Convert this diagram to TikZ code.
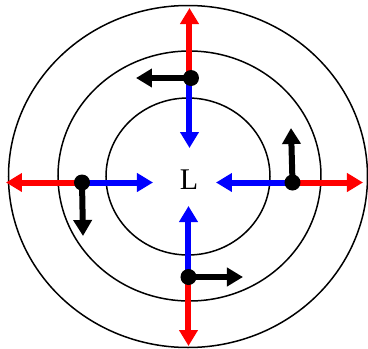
\documentclass[tikz,border=0pt]{standalone}
\usepackage{fontspec}
\setmainfont{Liberation Serif}
\usetikzlibrary{arrows.meta}
\begin{document}
\begin{tikzpicture}[x=1pt,y=-1pt,
  ring/.style={draw=black,line width=1.5pt},
  redarr/.style={draw=red,line width=6pt,-{Triangle[width=18pt,length=16pt]}},
  bluearr/.style={draw=blue,line width=6pt,-{Triangle[width=18pt,length=16pt]}},
  blackarr/.style={draw=black,line width=6pt,-{Triangle[width=18pt,length=16pt]}},
  dot/.style={circle,fill=black,inner sep=0pt,minimum size=16pt}]
\useasboundingbox (0,0) rectangle (368,349);
\draw[ring] (188,176.5) ellipse [x radius=179.5, y radius=171];
\draw[ring] (189.5,176) ellipse [x radius=131.5, y radius=125];
\draw[ring] (188,176.5) ellipse [x radius=82, y radius=78.5];
\node[font=\fontsize{30}{30}\selectfont,inner sep=0pt] (L) at (189,180) {L};
% dots positions
\coordinate (t) at (189.5,78);
\coordinate (r) at (292.5,182.5);
\coordinate (b) at (188.5,277);
\coordinate (l) at (82,182.5);
% tips
\coordinate (tr) at (189.5,8);
\coordinate (tb) at (189.5,148);
\coordinate (tk) at (136,78);
\coordinate (rr) at (363,182.5);
\coordinate (rb) at (216,182.5);
\coordinate (rk) at (291,128);
\coordinate (bb) at (188.5,206);
\coordinate (br) at (188.5,346);
\coordinate (bk) at (243,277);
\coordinate (lr) at (6,182.5);
\coordinate (lb) at (153,182.5);
\coordinate (lk) at (83,236);
\draw[redarr] (t) -- (tr);
\draw[bluearr] (t) -- (tb);
\draw[redarr] (r) -- (rr);
\draw[bluearr] (r) -- (rb);
\draw[redarr] (b) -- (br);
\draw[bluearr] (b) -- (bb);
\draw[redarr] (l) -- (lr);
\draw[bluearr] (l) -- (lb);
\draw[blackarr] (t) -- (tk);
\draw[blackarr] (r) -- (rk);
\draw[blackarr] (b) -- (bk);
\draw[blackarr] (l) -- (lk);
\node[dot] (dt) at (191,78) {};
\node[dot] (dr) at (292.5,182.5) {};
\node[dot] (db) at (188.5,277) {};
\node[dot] (dl) at (82,182.5) {};
\end{tikzpicture}
\end{document}
